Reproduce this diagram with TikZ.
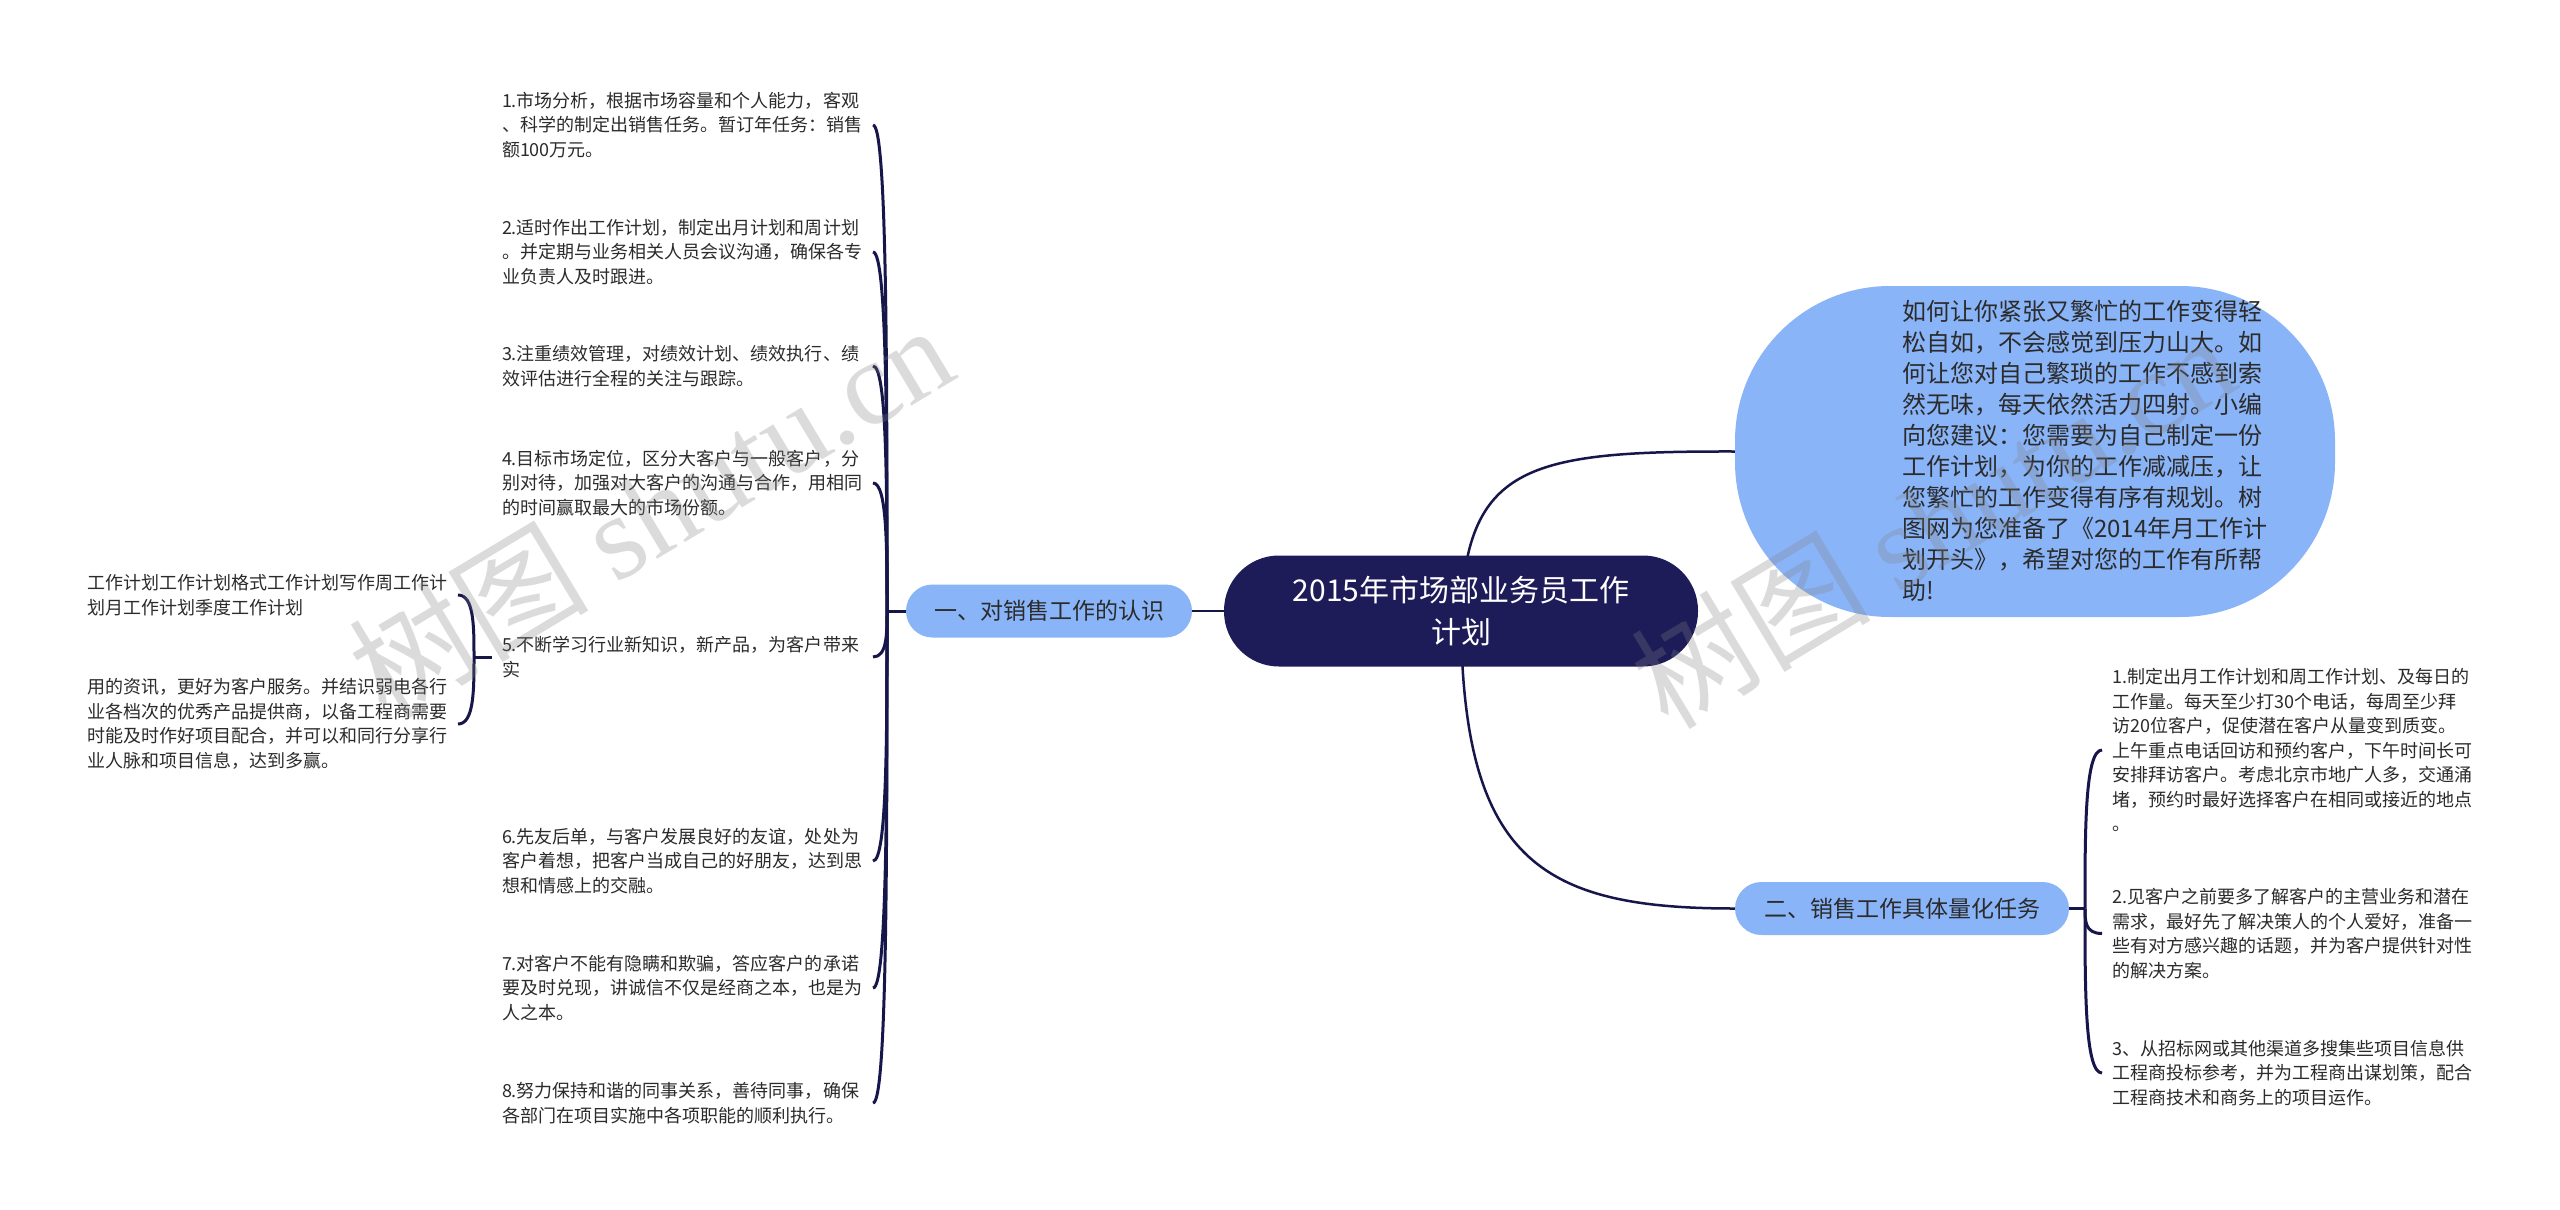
\documentclass[tikz,border=0pt]{standalone}
\usepackage{fontspec}
\setmainfont{Noto Sans CJK SC}
\newfontfamily\wmlatin{Liberation Serif}
\usetikzlibrary{calc}
\definecolor{navy}{HTML}{1E1C58}
\definecolor{linec}{HTML}{16164A}
\definecolor{lblue}{HTML}{8AB4F8}
\definecolor{txtc}{HTML}{2B2B2B}
\pgfdeclarelayer{bglayer}
\pgfsetlayers{bglayer,main}
\begin{document}
\begin{tikzpicture}[x=1pt,y=-1pt,
  conn/.style={draw=linec, line width=3pt},
  mainconn/.style={draw=linec, line width=2.5pt},
  leaf/.style={inner sep=0pt, outer xsep=10pt, text width=361pt, align=left, text=txtc,
    font=\fontsize{18pt}{24.5pt}\selectfont},
  branch/.style={fill=lblue, rounded corners=26.5pt, minimum height=53pt, inner sep=0pt,
    text=txtc, font=\fontsize{23pt}{28pt}\selectfont},
  central/.style={fill=navy, rounded corners=55pt, minimum width=474pt, minimum height=111pt,
    inner sep=0pt, text=white, text width=460pt, align=center,
    font=\fontsize{30pt}{42pt}\selectfont},
  bigbox/.style={fill=lblue, rounded corners=155pt, minimum width=600pt, minimum height=331pt, inner sep=0pt},
  bigtext/.style={inner sep=0pt, text width=380pt, align=left, text=txtc,
    font=\fontsize{24pt}{31pt}\selectfont},
  watermark/.style={rotate=31, text=black!50, opacity=0.28, inner sep=0pt,
    font=\fontsize{120pt}{130pt}\selectfont}
]
\begin{pgfonlayer}{bglayer}
\fill[white] (0,0) rectangle (2560,1210);
\end{pgfonlayer}
\useasboundingbox (0,0) rectangle (2560,1210);

% central and branches
\node[central] (c) at (1461,611) {2015年市场部业务员工作\\计划};
\node[branch, minimum width=286pt] (b1) at (1049,611) {一、对销售工作的认识};
\node[branch, minimum width=334pt] (b2) at (1902,908.5) {二、销售工作具体量化任务};
\node[bigbox] (bigbg) at (2035,451.5) {};
\node[bigtext, anchor=west] (bigtxt) at (1902,451) {如何让你紧张又繁忙的工作变得轻\\松自如，不会感觉到压力山大。如\\何让您对自己繁琐的工作不感到索\\然无味，每天依然活力四射。小编\\向您建议：您需要为自己制定一份\\工作计划，为你的工作减减压，让\\您繁忙的工作变得有序有规划。树\\图网为您准备了《2014年月工作计\\划开头》，希望对您的工作有所帮\\助!};

% left leaves
\node[leaf, anchor=west] (l1) at (492,125) {1.市场分析，根据市场容量和个人能力，客观\\、科学的制定出销售任务。暂订年任务：销售\\额100万元。};
\node[leaf, anchor=west] (l2) at (492,252) {2.适时作出工作计划，制定出月计划和周计划\\。并定期与业务相关人员会议沟通，确保各专\\业负责人及时跟进。};
\node[leaf, anchor=west] (l3) at (492,366) {3.注重绩效管理，对绩效计划、绩效执行、绩\\效评估进行全程的关注与跟踪。};
\node[leaf, anchor=west] (l4) at (492,483) {4.目标市场定位，区分大客户与一般客户，分\\别对待，加强对大客户的沟通与合作，用相同\\的时间赢取最大的市场份额。};
\node[leaf, anchor=west] (l5) at (492,657) {5.不断学习行业新知识，新产品，为客户带来\\实};
\node[leaf, anchor=west] (l6) at (492,861) {6.先友后单，与客户发展良好的友谊，处处为\\客户着想，把客户当成自己的好朋友，达到思\\想和情感上的交融。};
\node[leaf, anchor=west] (l7) at (492,988) {7.对客户不能有隐瞒和欺骗，答应客户的承诺\\要及时兑现，讲诚信不仅是经商之本，也是为\\人之本。};
\node[leaf, anchor=west] (l8) at (492,1103) {8.努力保持和谐的同事关系，善待同事，确保\\各部门在项目实施中各项职能的顺利执行。};

% sub leaves of item 5
\node[leaf, anchor=east] (s1) at (458,595) {工作计划工作计划格式工作计划写作周工作计\\划月工作计划季度工作计划};
\node[leaf, anchor=east] (s2) at (458,724) {用的资讯，更好为客户服务。并结识弱电各行\\业各档次的优秀产品提供商，以备工程商需要\\时能及时作好项目配合，并可以和同行分享行\\业人脉和项目信息，达到多赢。};

% right leaves
\node[leaf, anchor=west] (r1) at (2102,750) {1.制定出月工作计划和周工作计划、及每日的\\工作量。每天至少打30个电话，每周至少拜\\访20位客户，促使潜在客户从量变到质变。\\上午重点电话回访和预约客户，下午时间长可\\安排拜访客户。考虑北京市地广人多，交通涌\\堵，预约时最好选择客户在相同或接近的地点\\。};
\node[leaf, anchor=west] (r2) at (2102,933.5) {2.见客户之前要多了解客户的主营业务和潜在\\需求，最好先了解决策人的个人爱好，准备一\\些有对方感兴趣的话题，并为客户提供针对性\\的解决方案。};
\node[leaf, anchor=west] (r3) at (2102,1073) {3、从招标网或其他渠道多搜集些项目信息供\\工程商投标参考，并为工程商出谋划策，配合\\工程商技术和商务上的项目运作。};

\coordinate (lt) at (887,611);
\coordinate (rt) at (2085,908.5);
\coordinate (st) at (474,657);

\begin{pgfonlayer}{bglayer}
\draw[mainconn] (b1.east) -- (c.west);
\draw[mainconn] (c.center) .. controls (1468,465) and (1530,451) .. (bigbg.west);
\draw[mainconn] (c.center) .. controls (1461,860) and (1540,908.5) .. (b2.west);
\draw[conn] (b1.west) -- (lt);
\foreach \n in {l1,l2,l3,l4,l5,l6,l7,l8}
  \draw[conn] (lt) .. controls ($(lt)!0.5!(lt |- \n.east)$) and (lt |- \n.east) .. (\n.east);
\draw[conn] (b2.east) -- (rt);
\foreach \n in {r1,r2,r3}
  \draw[conn] (rt) .. controls ($(rt)!0.5!(rt |- \n.west)$) and (rt |- \n.west) .. (\n.west);
\draw[conn] (l5.west) -- (st);
\foreach \n in {s1,s2}
  \draw[conn] (st) .. controls ($(st)!0.5!(st |- \n.east)$) and (st |- \n.east) .. (\n.east);
\end{pgfonlayer}

% watermarks
\node[watermark] (wm1) at (650,510) {树图 {\wmlatin shutu.cn}};
\node[watermark] (wm2) at (1932,520) {树图 {\wmlatin shutu.cn}};
\end{tikzpicture}
\end{document}
